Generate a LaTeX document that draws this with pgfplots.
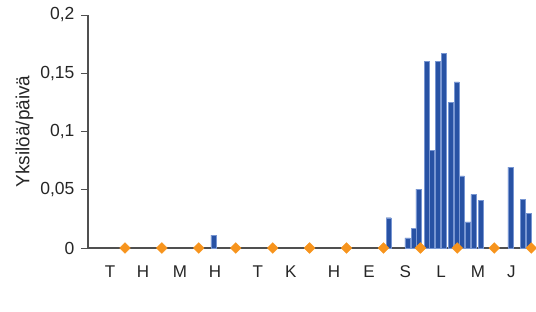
\documentclass[border=0pt]{standalone}
\usepackage{fontspec}
\setmainfont{Liberation Sans}
\usepackage{pgfplots}
\pgfplotsset{compat=1.18}
\definecolor{barblue}{RGB}{40,82,164}
\definecolor{baredge}{RGB}{120,150,210}
\definecolor{dia}{RGB}{247,148,29}
\definecolor{axgray}{RGB}{80,80,80}
\begin{document}
\begin{tikzpicture}[x=1pt,y=1pt]
\useasboundingbox (-88pt,-64pt) rectangle (448pt,248pt);
\begin{axis}[
  at={(0,0)}, anchor=origin,
  scale only axis, width=448pt, height=233pt,
  xmin=0, xmax=12.13, ymin=0, ymax=0.2,
  axis x line*=bottom, axis y line*=left,
  axis line style={axgray, line width=1.1pt},
  clip=false,
  xtick={0.60,1.49,2.49,3.44,4.60,5.49,6.66,7.61,8.59,9.56,10.56,11.46},
  xticklabels={T,H,M,H,T,K,H,E,S,L,M,J},
  x tick style={draw=none},
  ytick={0,0.05,0.1,0.15,0.2},
  yticklabels={0,{0,05},{0,1},{0,15},{0,2}},
  y tick style={axgray, line width=0.9pt},
  tick align=outside, major tick length=7pt,
  yticklabel style={font=\fontsize{17.5}{19}\selectfont, text=black!85, xshift=-3pt},
  xticklabel style={font=\fontsize{17}{19}\selectfont, text=black!85, yshift=-7pt},
  ylabel={Yksilöä/päivä},
  ylabel style={at={(axis description cs:-0.142,0.5)}, anchor=center, rotate=0, font=\fontsize{19}{21}\selectfont, text=black!85},
]
\addplot[ybar, bar width=0.14, fill=barblue, draw=baredge, line width=0.3pt] coordinates {
(3.40,0.011) (8.14,0.026) (8.65,0.0086) (8.82,0.017) (8.95,0.0506)
(9.17,0.160) (9.30,0.084) (9.47,0.160) (9.63,0.167) (9.82,0.125)
(9.98,0.1425) (10.12,0.062) (10.28,0.0225) (10.44,0.046) (10.63,0.041)
(11.44,0.0695) (11.77,0.042) (11.93,0.030)
};
\addplot[only marks, mark=square*, mark size=3.8pt, mark options={rotate=45, fill=dia, draw=dia}] coordinates {
(1,0) (2,0) (3,0) (4,0) (5,0) (6,0) (7,0) (8,0) (9,0) (10,0) (11,0) (12,0)
};
\end{axis}
\end{tikzpicture}
\end{document}
